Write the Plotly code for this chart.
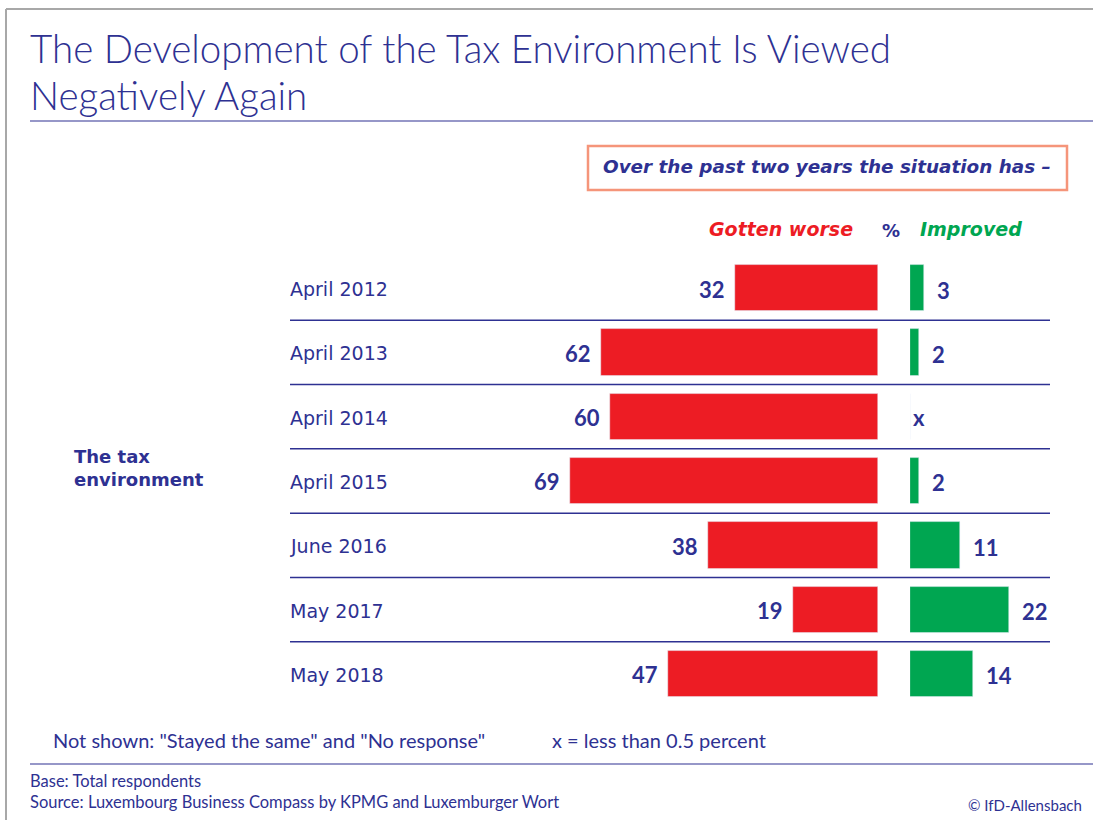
import plotly.graph_objects as go

# Survey waves and shares (%)
waves = ["April 2012", "April 2013", "April 2014", "April 2015",
         "June 2016", "May 2017", "May 2018"]
worse = [32, 62, 60, 69, 38, 19, 47]
improved = [3, 2, None, 2, 11, 22, 14]   # None = less than 0.5 percent

W, H = 1093, 820
NAVY = "#2E3192"
RED = "#ED1C24"
GREEN = "#00A651"
LATO = "Lato, 'Open Sans', sans-serif"
WIDE = "'DejaVu Sans', Verdana, sans-serif"


def px(x):
    return x / W


def py(y):
    return 1 - y / H


PPU_RED = 4.47      # pixels per percentage point (red side)
PPU_GREEN = 4.5     # pixels per percentage point (green side)
RED_END = 878       # right edge of red bars
GREEN_START = 910   # left edge of green bars
LEFT = 290

rows = list(range(len(waves)))

fig = go.Figure()
fig.add_trace(go.Bar(
    y=rows, x=worse, orientation="h", marker_color=RED,
    width=0.72, xaxis="x", yaxis="y", showlegend=False, hoverinfo="skip",
))
fig.add_trace(go.Bar(
    y=rows, x=[v if v is not None else 0 for v in improved], orientation="h",
    marker_color=GREEN, width=0.72, xaxis="x2", yaxis="y",
    showlegend=False, hoverinfo="skip",
))

annotations = []
shapes = []

# Row labels and value labels
for i, (w, g, lab) in enumerate(zip(worse, improved, waves)):
    annotations.append(dict(
        x=px(LEFT - 2), y=i, xref="paper", yref="y", text=lab, showarrow=False,
        xanchor="left", yanchor="middle", yshift=-1,
        font=dict(family=WIDE, size=19, color=NAVY),
    ))
    annotations.append(dict(
        x=w, y=i, xref="x", yref="y", text=f"<b>{w}</b>", showarrow=False,
        xanchor="right", yanchor="middle", xshift=-8, yshift=-1,
        font=dict(family=LATO, size=22, color=NAVY),
    ))
    if g is None:
        annotations.append(dict(
            x=0, y=i, xref="x2", yref="y", text="<b>x</b>", showarrow=False,
            xanchor="left", yanchor="middle", xshift=1, yshift=-1,
            font=dict(family=LATO, size=22, color=NAVY),
        ))
    else:
        annotations.append(dict(
            x=g, y=i, xref="x2", yref="y", text=f"<b>{g}</b>", showarrow=False,
            xanchor="left", yanchor="middle", xshift=11, yshift=-2,
            font=dict(family=LATO, size=22, color=NAVY),
        ))

# Row separators
for i in range(len(waves) - 1):
    shapes.append(dict(
        type="line", xref="paper", yref="y", x0=px(LEFT), x1=px(1050),
        y0=i + 0.5, y1=i + 0.5, line=dict(color=NAVY, width=1.5),
    ))

# Frame, title rule and footer rule
shapes += [
    dict(type="line", xref="paper", yref="paper", x0=px(6), x1=1, y0=py(9), y1=py(9),
         line=dict(color="#A8A8A8", width=2)),
    dict(type="line", xref="paper", yref="paper", x0=px(6), x1=px(6), y0=py(9), y1=0,
         line=dict(color="#A8A8A8", width=2)),
    dict(type="line", xref="paper", yref="paper", x0=px(30), x1=1, y0=py(121), y1=py(121),
         line=dict(color=NAVY, width=1.2)),
    dict(type="line", xref="paper", yref="paper", x0=px(30), x1=1, y0=py(764), y1=py(764),
         line=dict(color=NAVY, width=1.2)),
    dict(type="rect", xref="paper", yref="paper", x0=px(588), x1=px(1067),
         y0=py(190), y1=py(146), line=dict(color="#F5957A", width=2.5)),
]

# Title
TITLE_FONT = dict(family=LATO, size=38.5, color=NAVY, weight=300)
annotations += [
    dict(x=px(28), y=py(48), xref="paper", yref="paper",
         text="The Development of the Tax Environment Is Viewed", showarrow=False,
         xanchor="left", yanchor="middle", font=TITLE_FONT),
    dict(x=px(28), y=py(95), xref="paper", yref="paper",
         text="Negatively Again", showarrow=False, xanchor="left", yanchor="middle",
         font=TITLE_FONT),
]

# Question box and column heads
annotations += [
    dict(x=px(827), y=py(167), xref="paper", yref="paper",
         text="<b><i>Over the past two years the situation has –</i></b>", showarrow=False,
         xanchor="center", yanchor="middle", font=dict(family=WIDE, size=18.4, color=NAVY)),
    dict(x=px(855), y=py(229), xref="paper", yref="paper",
         text="<b><i>Gotten worse</i></b>", showarrow=False,
         xanchor="right", yanchor="middle", font=dict(family=WIDE, size=19, color=RED)),
    dict(x=px(891), y=py(230), xref="paper", yref="paper",
         text="<b>%</b>", showarrow=False,
         xanchor="center", yanchor="middle", font=dict(family=WIDE, size=18, color=NAVY)),
    dict(x=px(918), y=py(229), xref="paper", yref="paper",
         text="<b><i>Improved</i></b>", showarrow=False,
         xanchor="left", yanchor="middle", font=dict(family=WIDE, size=19, color=GREEN)),
    dict(x=px(72), y=py(468), xref="paper", yref="paper",
         text="<b>The tax<br>environment</b>", showarrow=False, align="left",
         xanchor="left", yanchor="middle", font=dict(family=WIDE, size=18, color=NAVY)),
]

# Footnotes
annotations += [
    dict(x=px(51), y=py(740), xref="paper", yref="paper",
         text='Not shown: "Stayed the same" and "No response"', showarrow=False,
         xanchor="left", yanchor="middle", font=dict(family=LATO, size=20, color=NAVY)),
    dict(x=px(550), y=py(740), xref="paper", yref="paper",
         text="x = less than 0.5 percent", showarrow=False,
         xanchor="left", yanchor="middle", font=dict(family=LATO, size=20, color=NAVY)),
    dict(x=px(28), y=py(781), xref="paper", yref="paper",
         text="Base: Total respondents", showarrow=False,
         xanchor="left", yanchor="middle", font=dict(family=LATO, size=16.5, color=NAVY)),
    dict(x=px(28), y=py(802), xref="paper", yref="paper",
         text="Source: Luxembourg Business Compass by KPMG and Luxemburger Wort",
         showarrow=False, xanchor="left", yanchor="middle",
         font=dict(family=LATO, size=16.5, color=NAVY)),
    dict(x=px(1084), y=py(805), xref="paper", yref="paper",
         text="© IfD-Allensbach", showarrow=False,
         xanchor="right", yanchor="middle", font=dict(family=LATO, size=15, color=NAVY)),
]

row_top = 288 - 64.33 / 2
row_bot = 674 + 64.33 / 2

fig.update_layout(
    width=W, height=H, margin=dict(l=0, r=0, t=0, b=0),
    paper_bgcolor="white", plot_bgcolor="rgba(0,0,0,0)",
    barmode="overlay", bargap=0,
    xaxis=dict(domain=[px(LEFT), px(RED_END)],
               range=[(RED_END - LEFT) / PPU_RED, 0], visible=False, fixedrange=True),
    xaxis2=dict(domain=[px(GREEN_START), 1],
                range=[0, (W - GREEN_START) / PPU_GREEN], visible=False, fixedrange=True),
    yaxis=dict(domain=[py(row_bot), py(row_top)], range=[6.5, -0.5],
               visible=False, fixedrange=True),
    annotations=annotations, shapes=shapes,
)

fig.write_html("out.html")
